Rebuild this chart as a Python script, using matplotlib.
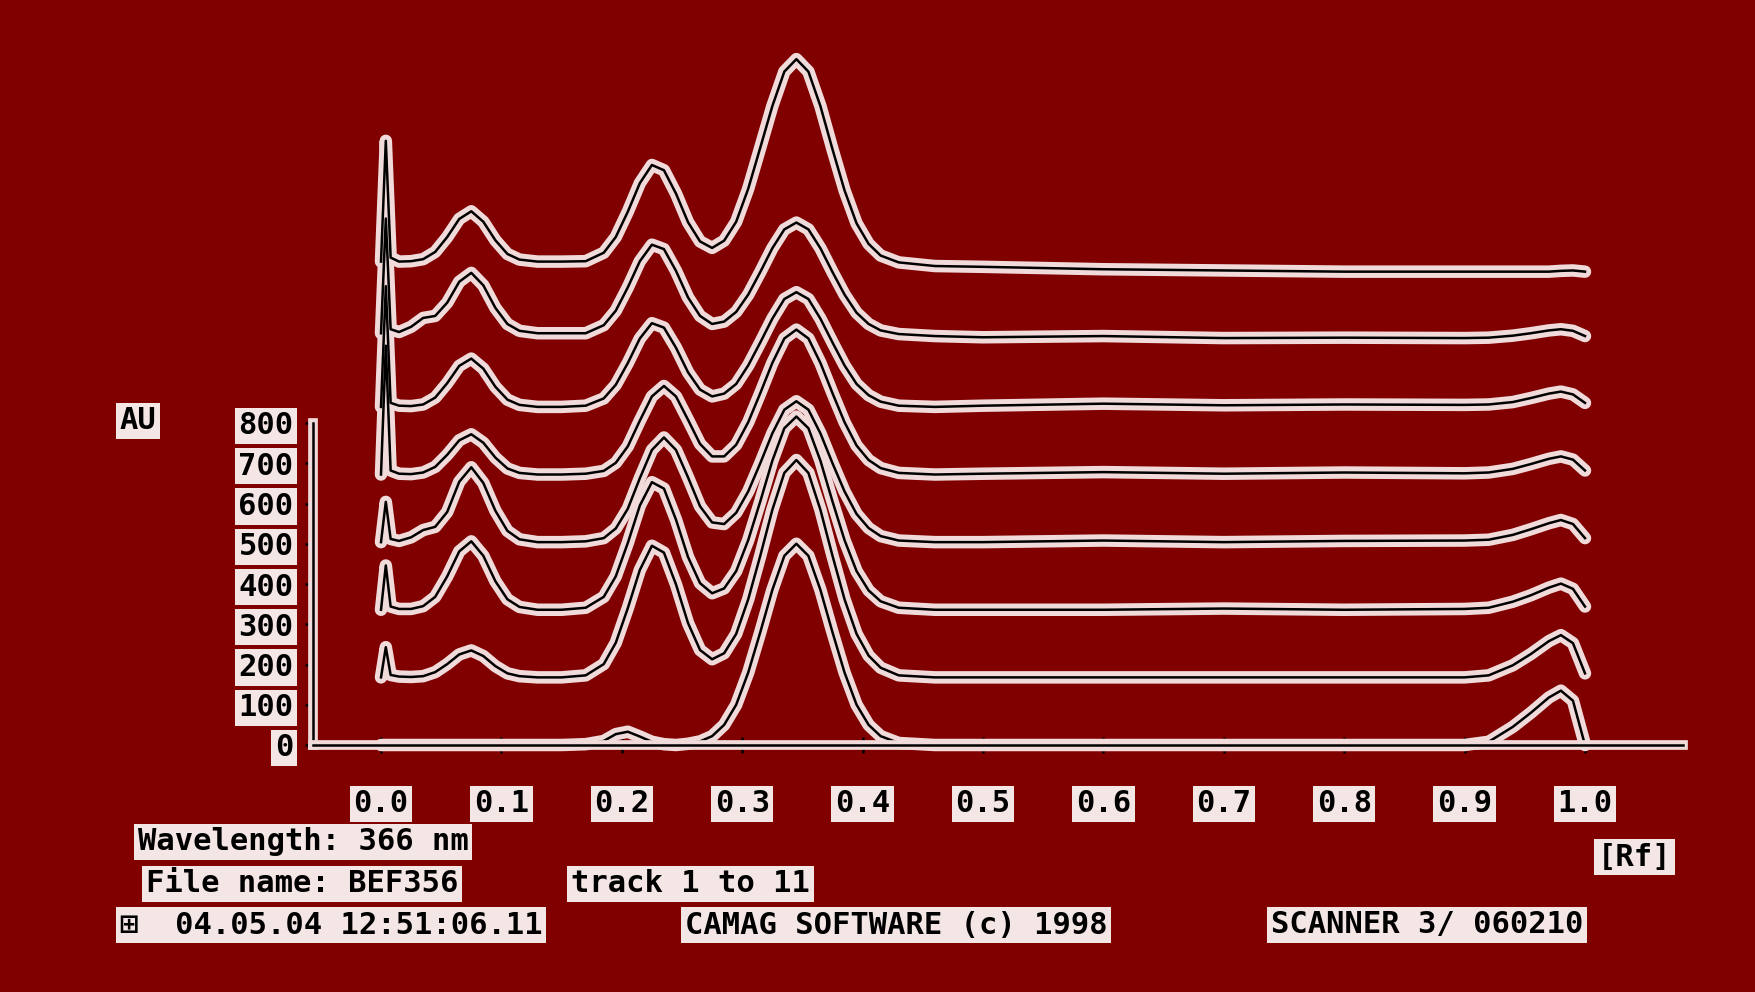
import matplotlib
matplotlib.use("Agg")
import matplotlib.pyplot as plt
import matplotlib.patheffects as pe

# Rf positions where the densitogram was read
rf = [0.000, 0.004, 0.008, 0.015, 0.025, 0.035, 0.045, 0.055, 0.065, 0.075,
      0.085, 0.095, 0.105, 0.115, 0.130, 0.150, 0.170, 0.185, 0.195, 0.205,
      0.215, 0.225, 0.235, 0.245, 0.255, 0.265, 0.275, 0.285, 0.295, 0.305,
      0.315, 0.325, 0.335, 0.345, 0.355, 0.365, 0.375, 0.385, 0.395, 0.405,
      0.415, 0.430, 0.460, 0.500, 0.600, 0.700, 0.800, 0.900, 0.920, 0.940,
      0.955, 0.970, 0.980, 0.990, 1.000]

# AU values per track (track 1 = front / bottom)
t1 = [0, 0, 0, 0, 0, 0, 0, 0, 0, 0,
      0, 0, 0, 0, 0, 0, 2, 10, 27, 33,
      21, 8, 2, 0, 3, 9, 22, 50, 100, 180,
      280, 385, 470, 500, 470, 385, 280, 180, 100, 50,
      22, 5, 0, 0, 0, 0, 0, 0, 8, 45,
      80, 118, 135, 110, 0]
t2 = [0, 75, 6, 2, 1, 3, 13, 33, 57, 67,
      53, 28, 10, 3, 0, 0, 5, 33, 86, 172,
      267, 327, 310, 231, 135, 68, 45, 60, 108, 194,
      302, 416, 508, 540, 508, 416, 302, 194, 108, 54,
      24, 5, 0, 0, 0, 0, 0, 0, 5, 30,
      58, 90, 105, 85, 10]
t3 = [0, 110, 8, 2, 2, 9, 32, 83, 145, 170,
      134, 71, 26, 7, 0, 0, 5, 32, 83, 166,
      259, 317, 301, 224, 131, 66, 41, 53, 96, 173,
      269, 370, 451, 480, 451, 370, 269, 173, 96, 48,
      21, 5, 0, 0, 0, 3, 0, 2, 5, 20,
      36, 55, 65, 52, 8]
t4 = [0, 100, 8, 3, 12, 30, 38, 75, 150, 186,
      147, 78, 28, 7, 0, 0, 2, 10, 34, 83,
      159, 229, 260, 229, 161, 89, 49, 45, 73, 126,
      196, 270, 329, 350, 329, 270, 196, 126, 70, 35,
      15, 4, 0, 0, 4, 0, 3, 4, 6, 18,
      32, 47, 55, 45, 10]
t5 = [0, 320, 10, 2, 1, 5, 19, 49, 85, 100,
      79, 42, 15, 4, 0, 0, 2, 9, 29, 70,
      134, 194, 220, 194, 136, 76, 45, 45, 74, 130,
      202, 277, 338, 360, 338, 277, 202, 130, 72, 36,
      16, 4, 0, 2, 6, 2, 5, 3, 5, 14,
      26, 39, 45, 37, 10]
t6 = [0, 300, 10, 3, 2, 6, 23, 59, 102, 120,
      95, 50, 18, 5, 0, 0, 3, 21, 55, 109,
      170, 208, 197, 147, 86, 43, 26, 33, 57, 103,
      160, 219, 268, 285, 268, 219, 160, 103, 57, 29,
      13, 3, 0, 3, 8, 4, 6, 5, 6, 12,
      22, 33, 38, 31, 10]
t7 = [15, 300, 25, 18, 31, 53, 58, 91, 143, 165,
      134, 78, 38, 21, 15, 15, 15, 35, 71, 129,
      194, 235, 224, 170, 104, 58, 38, 44, 68, 111,
      167, 226, 273, 290, 273, 226, 167, 111, 66, 38,
      22, 13, 8, 5, 8, 3, 4, 3, 4, 9,
      15, 22, 25, 21, 8]
t8 = [25, 325, 35, 25, 26, 31, 49, 86, 131, 150,
      124, 78, 44, 30, 25, 25, 26, 47, 86, 149,
      220, 265, 252, 194, 123, 75, 59, 77, 124, 206,
      308, 411, 497, 528, 497, 411, 304, 202, 120, 69,
      40, 23, 14, 12, 6, 3, 0, 0, 0, 0,
      0, 0, 2, 3, 0]
tracks = [t1, t2, t3, t4, t5, t6, t7, t8]
track_offset = [0, 168, 336, 504, 672, 840, 1008, 1176]

y_ticks = [0, 100, 200, 300, 400, 500, 600, 700, 800]
x_ticks = [0.0, 0.1, 0.2, 0.3, 0.4, 0.5, 0.6, 0.7, 0.8, 0.9, 1.0]

BG = "#800000"
HALO = "#f1dada"
MONO = ["DejaVu Sans Mono", "DejaVu Sans"]

W, H = 1756, 992
fig = plt.figure(figsize=(W / 100, H / 100), dpi=100)
fig.patch.set_facecolor(BG)
ax = fig.add_axes([0, 0, 1, 1])
ax.set_facecolor(BG)
# pixel mapping: Rf 0 -> x 381, Rf 1 -> x 1585 ; AU 0 -> y 745, AU 800 -> y 423
ax.set_xlim(-381 / 1204, (W - 381) / 1204)
ax.set_ylim((745 - H) / 0.4025, 745 / 0.4025)

# halos first, then the black traces on top
for vals, off in zip(tracks, track_offset):
    ax.plot(rf, [v + off for v in vals], color=HALO, lw=9,
            solid_joinstyle="round", solid_capstyle="round", zorder=2)
for vals, off in zip(tracks, track_offset):
    ax.plot(rf, [v + off for v in vals], color="black", lw=1.8,
            solid_joinstyle="round", zorder=3)

for s in ["top", "right"]:
    ax.spines[s].set_visible(False)
ax.spines["left"].set_position(("data", -0.0565))
ax.spines["left"].set_bounds(0, 800)
ax.spines["bottom"].set_position(("data", 0))
ax.spines["bottom"].set_bounds(-0.0565, 1.081)
for s in ["left", "bottom"]:
    ax.spines[s].set_color("black")
    ax.spines[s].set_linewidth(1.8)
    ax.spines[s].set_zorder(4)
    ax.spines[s].set_path_effects([pe.Stroke(linewidth=7, foreground=HALO), pe.Normal()])

ax.set_yticks(y_ticks)
ax.set_yticklabels([str(v) for v in y_ticks])
ax.set_xticks(x_ticks)
ax.set_xticklabels(["%.1f" % v for v in x_ticks])
ax.tick_params(axis="y", direction="out", length=6, width=1.8, pad=8,
               color="black", labelsize=22)
ax.tick_params(axis="x", direction="inout", length=12, width=1.8, pad=26,
               color="black", labelsize=22)
for lbl in ax.get_yticklabels() + ax.get_xticklabels():
    lbl.set_family(MONO)
    lbl.set_weight("bold")
    lbl.set_color("black")
    lbl.set_bbox(dict(boxstyle="square,pad=0.12", facecolor="#f5e6e6", edgecolor="none"))


def label(txt, x, y):
    fig.text(x / W, 1 - y / H, txt, ha="left", va="center", fontsize=22,
             family=MONO, weight="bold", color="black",
             bbox=dict(boxstyle="square,pad=0.12", facecolor="#f5e6e6", edgecolor="none"))


label("AU", 120, 421)
label("Wavelength: 366 nm", 138, 842)
label("File name: BEF356", 146, 884)
label("track 1 to 11", 571, 884)
label("\u229e  04.05.04 12:51:06.11", 120, 925)
label("CAMAG SOFTWARE (c) 1998", 685, 925)
label("SCANNER 3/ 060210", 1271, 925)
label("[Rf]", 1598, 857)

fig.savefig("out.png", dpi=100, facecolor=BG)
